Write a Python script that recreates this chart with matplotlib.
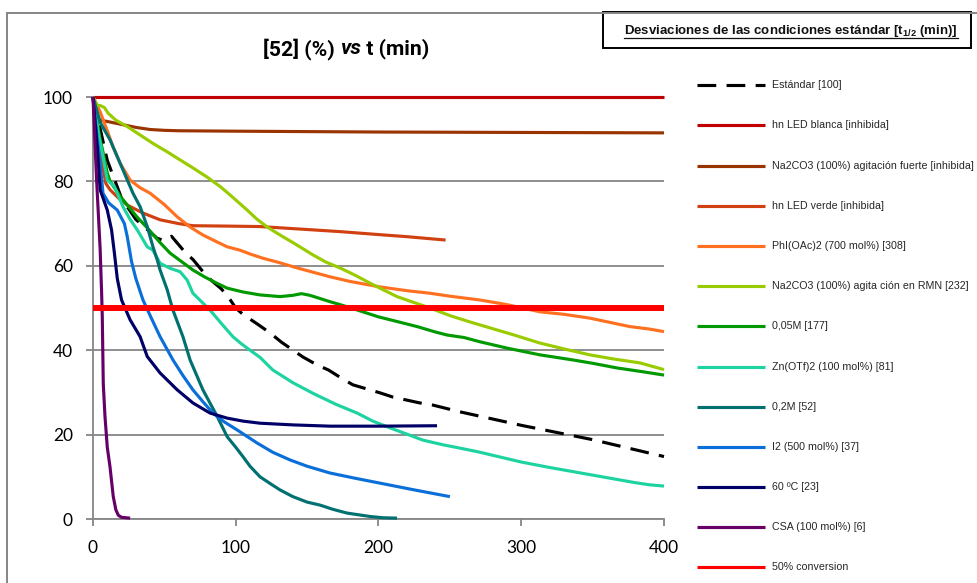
import matplotlib
matplotlib.use('Agg')
import matplotlib.pyplot as plt
from matplotlib.lines import Line2D
from matplotlib.patches import Rectangle

plt.rcParams['mathtext.default'] = 'regular'

# ---------------- data ----------------
labels = ["Estándar [100]", "hn LED blanca [inhibida]",
          "Na2CO3 (100%) agitación fuerte [inhibida]", "hn LED verde [inhibida]",
          "PhI(OAc)2 (700 mol%) [308]", "Na2CO3 (100%) agita ción en RMN [232]",
          "0,05M [177]", "Zn(OTf)2 (100 mol%) [81]", "0,2M [52]",
          "I2 (500 mol%) [37]", "60 ºC [23]", "CSA (100 mol%) [6]", "50% conversion"]

t_std = [0, 10, 20, 30, 40, 45, 50, 55, 60, 65, 70, 80, 90, 96, 100, 105, 109, 116, 124, 132,
         147, 157, 165, 173, 182, 195, 201, 210, 229, 238, 257, 300, 350, 400]
y_std = [100, 85, 76, 71, 68, 66.5, 66, 67, 65, 63, 61.5, 57.4, 54.5, 52, 50, 48.5, 47.6, 46, 44.1, 41.9,
         38.4, 36.5, 35.3, 33.6, 31.8, 30.5, 29.9, 28.9, 27.5, 27, 25.4, 22.2, 18.8, 14.8]

t_blanca = [0, 400]
y_blanca = [100, 100]

t_fuerte = [0, 2, 5, 10, 20, 30, 40, 50, 60, 100, 150, 200, 300, 400]
y_fuerte = [100, 95.5, 94.5, 94.2, 93.5, 92.8, 92.3, 92.1, 92.0, 91.9, 91.8, 91.7, 91.6, 91.5]

t_verde = [0, 3, 6, 9, 12, 18, 24, 35, 47, 60, 70, 96, 117, 150, 173, 200, 220, 247]
y_verde = [100, 92, 85, 79.5, 78, 76, 74.4, 72.5, 70.9, 70, 69.5, 69.4, 69.3, 68.6, 68.1, 67.4, 66.9, 66.1]

t_phi = [0, 5, 10, 14, 19, 26, 33, 40, 50, 59, 68, 77, 86, 94, 103, 110, 119, 130, 143, 155, 166,
         180, 201, 220, 236, 250, 271, 290, 313, 330, 348, 362, 376, 390, 400]
y_phi = [100, 96.5, 92, 88.2, 84.3, 80.3, 78.5, 77.2, 74.5, 71.6, 69.2, 67.3, 65.8, 64.5, 63.7, 62.8,
         61.8, 60.8, 59.5, 58.4, 57.4, 56.3, 55, 54.1, 53.5, 52.8, 51.9, 50.8, 49.1, 48.5, 47.6, 46.6,
         45.6, 45, 44.4]

t_rmn = [0, 3, 5, 8, 10.5, 16, 24, 33, 42, 52, 60, 70, 80, 89, 96, 102, 108, 115, 122, 131, 142, 154,
         163, 173, 184, 194, 204, 213, 224, 236, 250, 264, 278, 295, 313, 330, 348, 365, 383, 400]
y_rmn = [100, 98, 98, 97.5, 96.2, 94.5, 93, 91, 89, 87, 85.3, 83.2, 81, 78.8, 76.8, 75, 73.2, 71, 69.2,
         67.3, 65.1, 62.6, 60.9, 59.5, 57.7, 55.9, 54.2, 52.7, 51.4, 50, 48.2, 46.7, 45.3, 43.6, 41.7,
         40.3, 38.9, 37.9, 37, 35.4]

t_005 = [0, 5, 7, 10, 12, 19, 25, 31, 38, 47, 54, 62, 70, 78, 86, 94, 105, 117, 131, 140, 146, 152,
         166, 178, 189, 200, 213, 227, 240, 248, 260, 271, 290, 313, 336, 350, 367, 385, 400]
y_005 = [100, 90, 87, 82, 80, 76.5, 74, 71.5, 69, 65.5, 63, 61, 59, 57.4, 56, 54.7, 53.8, 53.1, 52.7,
         53, 53.4, 53, 51.5, 50.3, 49.1, 47.9, 46.8, 45.6, 44.3, 43.6, 43, 42, 40.5, 38.9, 37.7, 36.9,
         35.8, 34.9, 34.1]

t_zn = [0, 4, 7, 10, 15, 21, 26, 31, 38, 42, 47, 54, 61, 66, 70, 76, 82, 90, 98, 104, 110, 117, 126,
        140, 154, 170, 185, 196, 208, 220, 231, 245, 257, 270, 280, 300, 320, 340, 360, 380, 390, 400]
y_zn = [100, 91, 85.9, 80.3, 78.8, 74, 71, 68.5, 64.5, 63.7, 60.6, 59.4, 58.6, 56.6, 53.5, 51.5, 49.5,
        46.3, 43.2, 41.5, 40, 38.3, 35.3, 32.3, 29.8, 27.2, 25.1, 23.2, 21.6, 20.1, 18.7, 17.6, 16.8,
        15.9, 15.1, 13.5, 12.2, 11, 9.8, 8.6, 8.1, 7.8]

t_02 = [0, 5, 12, 19, 28, 33, 38, 42, 45, 47, 52, 56, 63, 68, 77, 87, 94, 100, 105, 110, 117, 125,
        131, 140, 150, 159, 168, 178, 186, 194, 203, 213]
y_02 = [100, 94, 89.8, 84.3, 77.2, 74, 69.3, 64.5, 61.4, 59, 54.3, 49.5, 43.2, 37.7, 30.6, 24.3, 19.5,
        17, 14.8, 12.5, 10, 8.2, 6.9, 5.3, 4, 3.3, 2.3, 1.4, 1.0, 0.6, 0.3, 0.2]

t_i2 = [0, 3, 5, 7, 11, 17, 22, 24, 27, 30, 35, 41, 47, 56, 63, 70, 77, 84, 92, 101, 115, 126, 138,
        150, 166, 183, 201, 225, 250]
y_i2 = [100, 90, 84.3, 77.2, 74.9, 73.2, 70, 66.9, 61, 57, 51.9, 47.5, 43.2, 37.7, 34, 30.6, 27.8,
        25.1, 23, 21.1, 18, 15.8, 14, 12.5, 10.9, 9.7, 8.5, 6.9, 5.3]

t_60 = [0, 3, 5, 10, 13, 15, 17, 20, 26, 33, 38, 47, 59, 70, 82, 94, 105, 117, 140, 166, 200, 241]
y_60 = [100, 88, 78, 73.2, 68.5, 63, 57, 51.9, 47.2, 43.2, 38.5, 34.6, 30.6, 27.5, 25.1, 23.9, 23.2,
        22.7, 22.3, 22, 22, 22.1]

t_csa = [0, 2.5, 5, 6, 6.5, 7.2, 8.4, 10, 11.9, 14.2, 16, 17.7, 20, 26]
y_csa = [100, 80.5, 64, 54, 48, 32, 24.3, 17, 12.4, 5.3, 2.2, 0.9, 0.4, 0.2]

t_50 = [0, 400]
y_50 = [50, 50]

x_ticks = [0, 100, 200, 300, 400]
y_ticks = [0, 20, 40, 60, 80, 100]

# ---------------- styles ----------------
series = [
    (t_std, y_std, 'black', 2.25, (0, (6, 3.3))),
    (t_blanca, y_blanca, '#C00000', 2.25, '-'),
    (t_fuerte, y_fuerte, '#993300', 2.25, '-'),
    (t_verde, y_verde, '#D04010', 2.25, '-'),
    (t_phi, y_phi, '#FF7020', 2.25, '-'),
    (t_rmn, y_rmn, '#99CC00', 2.25, '-'),
    (t_005, y_005, '#009900', 2.25, '-'),
    (t_zn, y_zn, '#1DD3A0', 2.25, '-'),
    (t_02, y_02, '#007070', 2.25, '-'),
    (t_i2, y_i2, '#0A6FD8', 2.25, '-'),
    (t_60, y_60, '#000066', 2.25, '-'),
    (t_csa, y_csa, '#660066', 2.25, '-'),
    (t_50, y_50, '#FF0000', 4.3, '-'),
]

W, H = 978, 583
fig = plt.figure(figsize=(W / 100, H / 100), dpi=100)


def fx(px):
    return px / W


def fy(py):
    return 1 - py / H


ax = fig.add_axes([fx(93), fy(519), (664 - 93) / W, (519 - 97) / H])

handles = []
for i, (t, y, c, lw, ls) in enumerate(series):
    ln, = ax.plot(t, y, color=c, lw=lw, ls=ls, solid_joinstyle='round',
                  solid_capstyle='butt', clip_on=False, zorder=3 + i * 0.01)
    handles.append(ln)

ax.set_xlim(0, 400)
ax.set_ylim(0, 100)
ax.set_xticks(x_ticks)
ax.set_yticks(y_ticks)
grey = '#868686'
for s in ['top', 'right']:
    ax.spines[s].set_visible(False)
for s in ['left', 'bottom']:
    ax.spines[s].set_color(grey)
    ax.spines[s].set_linewidth(1.3)
ax.yaxis.grid(True, color=grey, lw=1.3)
ax.set_axisbelow(True)
ax.tick_params(axis='both', direction='out', length=5, width=1.3, color=grey,
               labelsize=12.5, labelcolor='black')
ax.tick_params(axis='y', pad=9.5)
ax.tick_params(axis='x', pad=10)
for lab in ax.get_xticklabels() + ax.get_yticklabels():
    lab.set_family('Lato')

renderer = fig.canvas.get_renderer()

# title built from three pieces (bold, bold italic, bold)
title_parts = [("[52] (%) ", 'normal'), ("vs", 'italic'), (" t (min)", 'normal')]
tfs = 15.2
objs = []
for txt, style in title_parts:
    o = fig.text(0, fy(49), txt, ha='left', va='center', fontsize=tfs, fontweight='bold',
                 fontstyle=style, family='Roboto')
    objs.append(o)
widths = [o.get_window_extent(renderer).width for o in objs]
xcur = 346 - sum(widths) / 2
for o, w in zip(objs, widths):
    o.set_x(fx(xcur))
    xcur += w

# outer border
fig.add_artist(Line2D([fx(7.5), 1.0], [fy(12.5), fy(12.5)], color=grey, lw=1.4))
fig.add_artist(Line2D([fx(7.5), fx(7.5)], [0.0, fy(12.5)], color=grey, lw=1.4))

# legend title box
fig.add_artist(Rectangle((fx(603), fy(48)), (971 - 603) / W, (48 - 12.5) / H,
                         transform=fig.transFigure, fill=False, ec='black', lw=1.4))
ttl = fig.text(fx(791), fy(31), r"Desviaciones de las condiciones estándar [t$_{1/2}$ (min)]",
               ha='center', va='center', fontsize=9.5, fontweight='bold',
               family='Liberation Sans', color='#111111')
bb = ttl.get_window_extent(renderer)
fig.add_artist(Line2D([bb.x0 / W, bb.x1 / W], [fy(38), fy(38)], color='#111111', lw=0.9))

# legend entries
y0, step = 85.3, 40.18
for i, (lab, h) in enumerate(zip(labels, handles)):
    yy = fy(y0 + i * step)
    fig.add_artist(Line2D([fx(697), fx(765)], [yy, yy], color=h.get_color(), lw=2.25,
                          ls=h.get_linestyle(), solid_capstyle='butt',
                          dashes=(6, 3.3) if i == 0 else (None, None)))
    fig.text(fx(772), yy, lab, ha='left', va='center', fontsize=7.7,
             family='Liberation Sans', color='#262626')

fig.savefig('out.png', dpi=100)
